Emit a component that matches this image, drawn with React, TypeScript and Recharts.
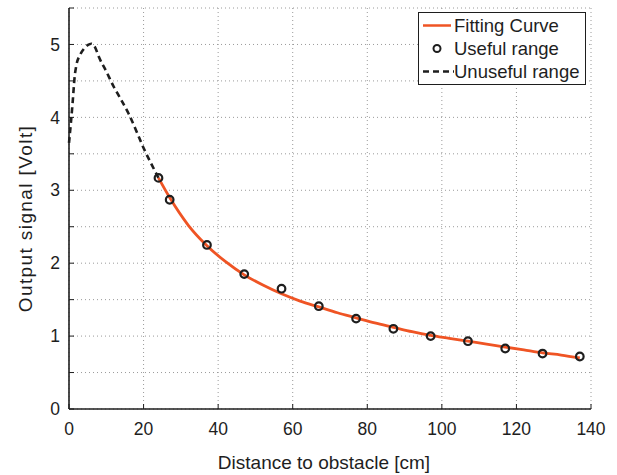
import React from "react";
import { ComposedChart, Line, Scatter, XAxis, YAxis, CartesianGrid, Legend } from "recharts";

// fitted curve (useful range)
const fitX = [24, 27, 32, 37, 42, 47, 52, 57, 62, 67, 72, 77, 82, 87, 92, 97, 102, 107, 112, 117, 122, 127, 132, 137];
const fitY = [3.17, 2.9, 2.52, 2.24, 2.02, 1.84, 1.7, 1.58, 1.48, 1.4, 1.32, 1.25, 1.18, 1.12, 1.06, 1.01, 0.97, 0.93, 0.89, 0.85, 0.81, 0.77, 0.74, 0.7];

// measured points
const usefulX = [24, 27, 37, 47, 57, 67, 77, 87, 97, 107, 117, 127, 137];
const usefulY = [3.17, 2.87, 2.25, 1.85, 1.65, 1.41, 1.24, 1.1, 1.0, 0.93, 0.83, 0.76, 0.72];

// short range where the sensor is not usable
const unusefulX = [0, 0.5, 1, 1.5, 2, 3, 4, 5, 6, 7, 8, 10, 12, 14, 16, 18, 20, 22, 24];
const unusefulY = [3.65, 3.92, 4.22, 4.55, 4.72, 4.86, 4.94, 4.99, 5.01, 4.96, 4.83, 4.63, 4.42, 4.24, 4.05, 3.82, 3.58, 3.37, 3.17];

const xTicks = [0, 20, 40, 60, 80, 100, 120, 140];
const yTicks = [0, 0.5, 1, 1.5, 2, 2.5, 3, 3.5, 4, 4.5, 5, 5.5];

const legendItems = [
  { label: "Fitting Curve", kind: "line" },
  { label: "Useful range", kind: "dot" },
  { label: "Unuseful range", kind: "dash" },
];

const FONT = "'Liberation Sans', Arial, Helvetica, sans-serif";
const ORANGE = "#ef5424";
const INK = "#1e1e1e";

const zip = (xs: number[], ys: number[]) => xs.map((x, i) => ({ x, y: ys[i] }));
const fitData = zip(fitX, fitY);
const usefulData = zip(usefulX, usefulY);
const unusefulData = zip(unusefulX, unusefulY);

const tickStyle = { fontSize: 17.5, fill: INK, fontFamily: FONT };
const labelStyle = { fontSize: 19, fill: INK, fontFamily: FONT };

function LegendBox() {
  return (
    <div
      style={{
        border: `1.5px solid ${INK}`,
        background: "#fff",
        width: 168,
        boxSizing: "border-box",
        padding: "1px 0",
        fontFamily: FONT,
        fontSize: 18.5,
        color: INK,
      }}
    >
      {legendItems.map((it) => (
        <div key={it.label} style={{ display: "flex", alignItems: "center", height: 23 }}>
          <svg width={35} height={23} style={{ flex: "none" }}>
            {it.kind === "line" && <line x1={4} x2={32} y1={11.5} y2={11.5} stroke={ORANGE} strokeWidth={2.5} />}
            {it.kind === "dot" && <circle cx={18} cy={11.5} r={3.5} fill="none" stroke={INK} strokeWidth={2} />}
            {it.kind === "dash" && (
              <line x1={4} x2={35} y1={11.5} y2={11.5} stroke={INK} strokeWidth={2.5} strokeDasharray="6 4" />
            )}
          </svg>
          <span style={{ whiteSpace: "nowrap" }}>{it.label}</span>
        </div>
      ))}
    </div>
  );
}

export default function App() {
  return (
    <div style={{ position: "absolute", left: 0, top: 0, background: "#fff" }}>
      <ComposedChart width={617} height={475} margin={{ top: 8, right: 26, left: 0, bottom: 0 }}>
        <CartesianGrid stroke="#9a9a9a" strokeDasharray="1 3" />
        <XAxis
          dataKey="x"
          type="number"
          domain={[0, 140]}
          ticks={xTicks}
          height={66}
          tickSize={-5}
          tickMargin={19}
          tick={tickStyle}
          axisLine={{ stroke: INK, strokeWidth: 1.6 }}
          tickLine={{ stroke: INK }}
          label={{ value: "Distance to obstacle [cm]", position: "insideBottom", offset: 6, dx: -6, style: labelStyle }}
        />
        <XAxis
          xAxisId="top"
          orientation="top"
          dataKey="x"
          type="number"
          domain={[0, 140]}
          ticks={xTicks}
          height={0}
          tickSize={-5}
          tickFormatter={() => ""}
          axisLine={{ stroke: INK, strokeWidth: 1.6 }}
          tickLine={{ stroke: INK }}
        />
        <YAxis
          type="number"
          domain={[0, 5.5]}
          ticks={yTicks}
          width={69}
          tickSize={-5}
          tickMargin={14}
          tick={tickStyle}
          tickFormatter={(v: number) => (Number.isInteger(v) ? String(v) : "")}
          axisLine={{ stroke: INK, strokeWidth: 1.6 }}
          tickLine={{ stroke: INK }}
          label={{
            value: "Output signal [Volt]",
            angle: -90,
            position: "center",
            dx: -9,
            dy: 10,
            style: { ...labelStyle, letterSpacing: 1.4 },
          }}
        />
        <YAxis
          yAxisId="right"
          orientation="right"
          type="number"
          domain={[0, 5.5]}
          ticks={yTicks}
          width={0}
          tickSize={-5}
          tickFormatter={() => ""}
          axisLine={{ stroke: INK, strokeWidth: 1.6 }}
          tickLine={{ stroke: INK }}
        />
        <Legend
          layout="vertical"
          align="center"
          verticalAlign="middle"
          content={() => <LegendBox />}
          wrapperStyle={{ top: 12, left: 418, width: 168 }}
        />
        <Line
          data={unusefulData}
          dataKey="y"
          type="monotone"
          stroke={INK}
          strokeWidth={2.6}
          strokeDasharray="6 4"
          dot={false}
          activeDot={false}
          isAnimationActive={false}
        />
        <Line
          data={fitData}
          dataKey="y"
          type="monotone"
          stroke={ORANGE}
          strokeWidth={2.8}
          dot={false}
          activeDot={false}
          isAnimationActive={false}
        />
        <Scatter
          data={usefulData}
          dataKey="y"
          isAnimationActive={false}
          shape={(p: any) => <circle cx={p.cx} cy={p.cy} r={3.8} fill="none" stroke={INK} strokeWidth={2.2} />}
        />
      </ComposedChart>
    </div>
  );
}
